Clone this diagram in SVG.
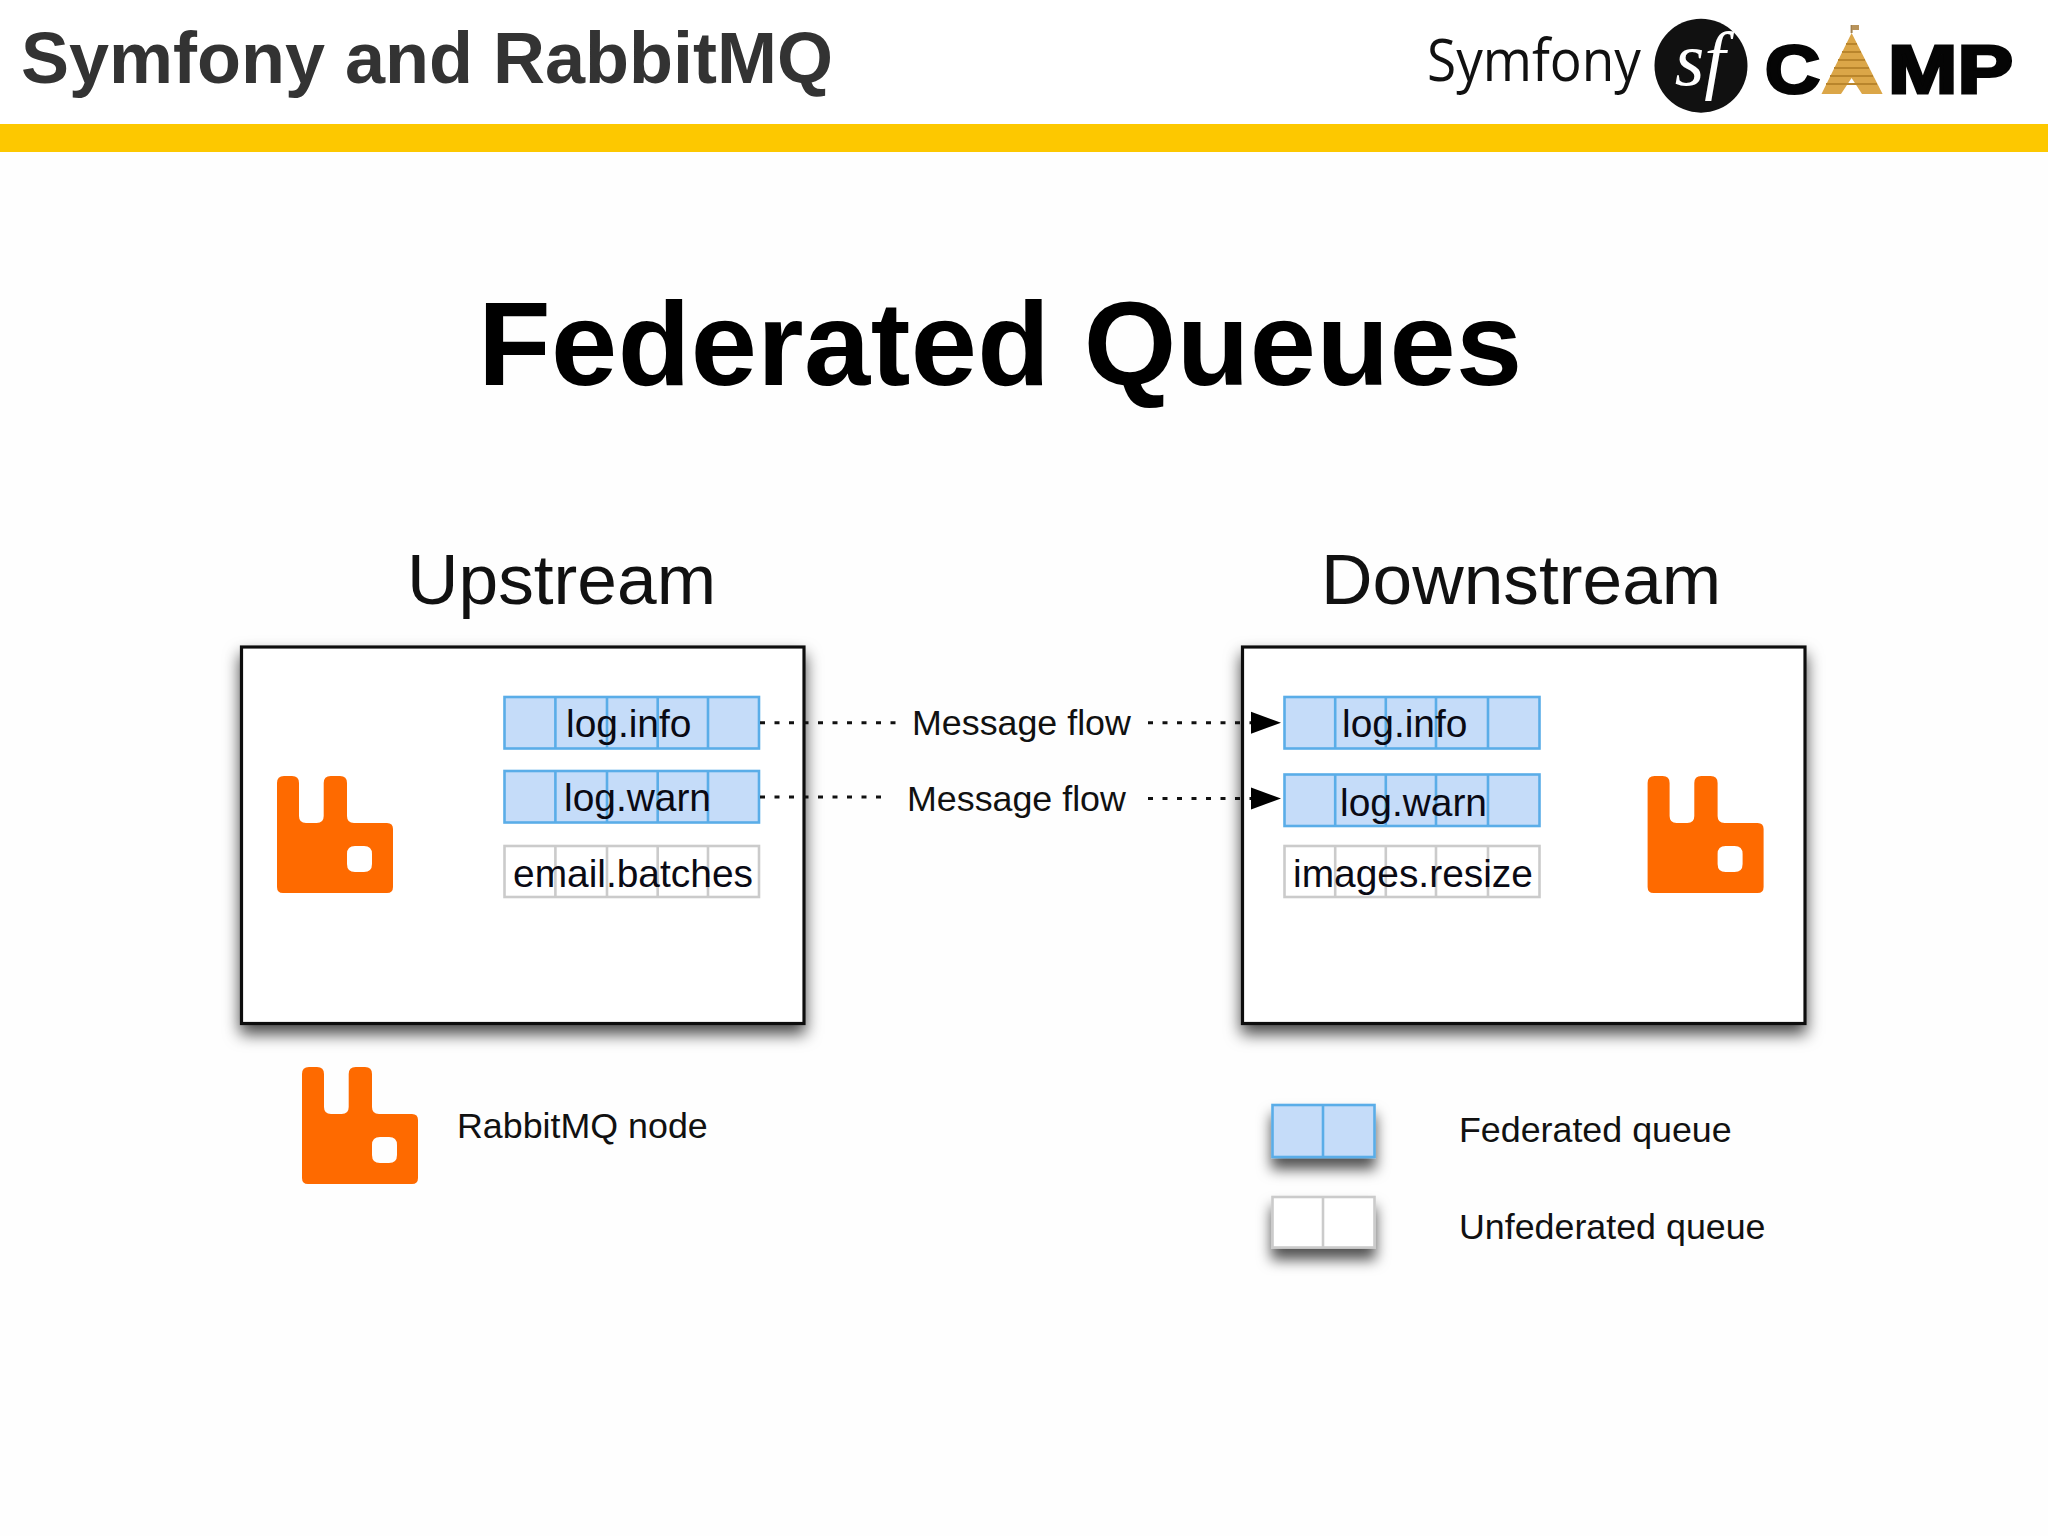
<svg xmlns="http://www.w3.org/2000/svg" xmlns:xlink="http://www.w3.org/1999/xlink" width="2048" height="1536" viewBox="0 0 2048 1536">
<style>
text{font-family:"Liberation Sans",Arial,sans-serif;fill:#000}
.q{stroke-width:2.6}
.fed{fill:#c5dcf9;stroke:#5aade8}
.unf{fill:#fff;stroke:#cbcbcb}
.qt{font-size:38.9px;fill:#0a0a14}
.lbl{font-size:35.8px;fill:#111}
.head{font-size:71.3px;fill:#111}
.box{fill:#fff;stroke:#111;stroke-width:3.2}
.dash{stroke:#111;stroke-width:3;stroke-dasharray:5 9.5;fill:none}
.rab{fill:#fe6a00;fill-rule:evenodd}
.camp{font-weight:700;font-size:68px;fill:#050505;stroke:#050505;stroke-width:3}
.stripe{stroke:#b9852c;stroke-width:2}
</style>
<defs>
<filter id="sh" x="-15%" y="-15%" width="130%" height="135%"><feDropShadow dx="0" dy="9" stdDeviation="8" flood-color="#000" flood-opacity=".72"/></filter>
<filter id="shs" x="-40%" y="-50%" width="180%" height="240%"><feDropShadow dx="0" dy="11" stdDeviation="7" flood-color="#000" flood-opacity=".68"/></filter>
<marker id="arr" markerUnits="userSpaceOnUse" markerWidth="30" markerHeight="24" refX="0" refY="12" orient="auto"><path d="M0,1L30,12L0,23Z" fill="#000"/></marker>
<path id="rabbit" class="rab" d="M7,0H15Q22,0 22,7V40Q22,47 29,47H39.7Q46.7,47 46.7,40V7Q46.7,0 53.7,0H63Q70,0 70,7V40Q70,47 77,47H110Q116,47 116,53V111Q116,117 110,117H6Q0,117 0,111V7Q0,0 7,0ZM78,70Q70,70 70,78V88Q70,96 78,96H87Q95,96 95,88V78Q95,70 87,70Z"/>
</defs>
<rect width="2048" height="1536" fill="#fefefe"/>
<g id="header">
<rect x="0" y="0" width="2048" height="124" fill="#fff"/>
<rect x="0" y="124" width="2048" height="28" fill="#fdc800"/>
<text x="21" y="83" font-size="72" font-weight="700" style="fill:#333">Symfony and RabbitMQ</text>
</g>
<g id="logo">
<text x="1427" y="81" textLength="214" lengthAdjust="spacingAndGlyphs" style="font-family:'Open Sans',sans-serif;font-size:58px;fill:#111">Symfony</text>
<ellipse cx="1701" cy="65.7" rx="46.5" ry="47" fill="#111"/>
<text x="1700" y="85" text-anchor="middle" style="font-family:'Liberation Serif',serif;font-style:italic;font-size:76px;fill:#fff">sf</text>
<text x="1765" y="93" class="camp" textLength="55" lengthAdjust="spacingAndGlyphs">C</text>
<polygon points="1851.6,33 1882.6,94 1862,94 1851.6,78 1841,94 1821.5,94" fill="#dba648"/>
<path class="stripe" d="M1846,44H1857M1842,52H1861M1838,60H1865M1834,68H1869M1830,76H1873M1826,84H1877" fill="none"/>
<path d="M1851.6,33V25" stroke="#a08050" stroke-width="2"/>
<path d="M1852,25h7v5h-7z" fill="#b8935a"/>
<text x="1888" y="93" class="camp" textLength="125" lengthAdjust="spacingAndGlyphs">MP</text>
</g>
<text id="title" x="478" y="385" font-size="119" font-weight="700" letter-spacing=".4">Federated Queues</text>
<text id="upstream-label" class="head" x="407" y="604">Upstream</text>
<text id="downstream-label" class="head" x="1321" y="604">Downstream</text>
<g id="upstream">
<rect class="box" x="241.5" y="647" width="562.5" height="376.5" filter="url(#sh)"/>
<use href="#rabbit" x="277" y="776"/>
</g>
<g id="downstream">
<rect class="box" x="1242.5" y="647" width="562.5" height="376.5" filter="url(#sh)"/>
<use href="#rabbit" x="1647.6" y="776"/>
</g>
<g id="up-log-info">
<rect class="q fed" x="504.5" y="697" width="254.5" height="51.5"/>
<path class="q fed" d="M555.4,697V748.5M607,697V748.5M657.7,697V748.5M708,697V748.5"/>
<text class="qt" x="566" y="737">log.info</text>
</g>
<g id="up-log-warn">
<rect class="q fed" x="504.5" y="771" width="254.5" height="51.5"/>
<path class="q fed" d="M555.4,771V822.5M607,771V822.5M657.7,771V822.5M708,771V822.5"/>
<text class="qt" x="564" y="811">log.warn</text>
</g>
<g id="up-email-batches">
<rect class="q unf" x="504.5" y="846" width="254.5" height="51"/>
<path class="q unf" d="M555.4,846V897M607,846V897M657.7,846V897M708,846V897"/>
<text class="qt" x="513" y="887">email.batches</text>
</g>
<g id="down-log-info">
<rect class="q fed" x="1284.5" y="697" width="255" height="51.5"/>
<path class="q fed" d="M1335.2,697V748.5M1385.8,697V748.5M1436,697V748.5M1488,697V748.5"/>
<text class="qt" x="1342" y="737">log.info</text>
</g>
<g id="down-log-warn">
<rect class="q fed" x="1284.5" y="774.5" width="255" height="51.5"/>
<path class="q fed" d="M1335.2,774.5V826M1385.8,774.5V826M1436,774.5V826M1488,774.5V826"/>
<text class="qt" x="1340" y="816">log.warn</text>
</g>
<g id="down-images-resize">
<rect class="q unf" x="1284.5" y="846" width="255" height="51"/>
<path class="q unf" d="M1335.2,846V897M1385.8,846V897M1436,846V897M1488,846V897"/>
<text class="qt" x="1293" y="887">images.resize</text>
</g>
<g id="connectors">
<line class="dash" x1="760" y1="722.7" x2="898" y2="722.7"/>
<line class="dash" x1="760" y1="797" x2="888" y2="797"/>
<line class="dash" x1="1148" y1="722.7" x2="1251" y2="722.7" marker-end="url(#arr)"/>
<line class="dash" x1="1148" y1="798.5" x2="1251" y2="798.5" marker-end="url(#arr)"/>
</g>
<g id="flow-labels">
<text class="lbl" x="912" y="735">Message flow</text>
<text class="lbl" x="907" y="811">Message flow</text>
</g>
<g id="legend">
<g id="legend-node">
<use href="#rabbit" x="302" y="1067"/>
<text class="lbl" x="457" y="1138">RabbitMQ node</text>
</g>
<g id="legend-federated">
<rect class="q fed" x="1272.5" y="1105" width="102" height="52" filter="url(#shs)"/>
<path class="q fed" d="M1323,1105V1157"/>
<text class="lbl" x="1459" y="1142">Federated queue</text>
</g>
<g id="legend-unfederated">
<rect class="q unf" x="1272.5" y="1197" width="102" height="50.5" filter="url(#shs)"/>
<path class="q unf" d="M1323,1197V1247.5"/>
<text class="lbl" x="1459" y="1239">Unfederated queue</text>
</g>
</g>
</svg>
